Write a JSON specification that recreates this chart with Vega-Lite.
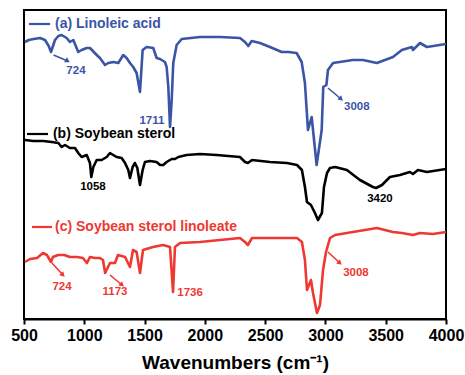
{
  "$schema": "https://vega.github.io/schema/vega-lite/v6.json",
  "width": 422,
  "height": 309,
  "autosize": "none",
  "padding": {"left": 24, "top": 10, "right": 19, "bottom": 56},
  "background": "white",
  "config": {
    "view": {"stroke": "black", "strokeWidth": 2},
    "font": "Liberation Sans"
  },
  "datasets": {
    "spectra": [
      {"wn": 508, "T": 277, "s": "a"}, {"wn": 540, "T": 279, "s": "a"}, {"wn": 580, "T": 280, "s": "a"}, {"wn": 633, "T": 281, "s": "a"},
      {"wn": 674, "T": 279, "s": "a"}, {"wn": 705, "T": 273, "s": "a"}, {"wn": 724, "T": 267, "s": "a"}, {"wn": 757, "T": 279, "s": "a"},
      {"wn": 785, "T": 283, "s": "a"}, {"wn": 812, "T": 284, "s": "a"}, {"wn": 854, "T": 281, "s": "a"}, {"wn": 881, "T": 277, "s": "a"},
      {"wn": 909, "T": 279, "s": "a"}, {"wn": 950, "T": 267, "s": "a"}, {"wn": 978, "T": 269, "s": "a"}, {"wn": 1020, "T": 271, "s": "a"},
      {"wn": 1047, "T": 271, "s": "a"}, {"wn": 1103, "T": 264, "s": "a"}, {"wn": 1130, "T": 261, "s": "a"}, {"wn": 1172, "T": 254, "s": "a"},
      {"wn": 1199, "T": 256, "s": "a"}, {"wn": 1240, "T": 257, "s": "a"}, {"wn": 1282, "T": 256, "s": "a"}, {"wn": 1323, "T": 264, "s": "a"},
      {"wn": 1351, "T": 261, "s": "a"}, {"wn": 1379, "T": 256, "s": "a"}, {"wn": 1406, "T": 252, "s": "a"}, {"wn": 1434, "T": 246, "s": "a"},
      {"wn": 1462, "T": 227, "s": "a"}, {"wn": 1484, "T": 269, "s": "a"}, {"wn": 1517, "T": 272, "s": "a"}, {"wn": 1572, "T": 271, "s": "a"},
      {"wn": 1600, "T": 261, "s": "a"}, {"wn": 1628, "T": 260, "s": "a"}, {"wn": 1669, "T": 257, "s": "a"}, {"wn": 1683, "T": 252, "s": "a"},
      {"wn": 1697, "T": 232, "s": "a"}, {"wn": 1711, "T": 192, "s": "a"}, {"wn": 1725, "T": 219, "s": "a"}, {"wn": 1738, "T": 256, "s": "a"},
      {"wn": 1766, "T": 274, "s": "a"}, {"wn": 1808, "T": 280, "s": "a"}, {"wn": 1960, "T": 282, "s": "a"}, {"wn": 2125, "T": 282, "s": "a"},
      {"wn": 2291, "T": 281, "s": "a"}, {"wn": 2333, "T": 277, "s": "a"}, {"wn": 2360, "T": 273, "s": "a"}, {"wn": 2388, "T": 278, "s": "a"},
      {"wn": 2457, "T": 276, "s": "a"}, {"wn": 2540, "T": 272, "s": "a"}, {"wn": 2637, "T": 267, "s": "a"}, {"wn": 2692, "T": 267, "s": "a"},
      {"wn": 2761, "T": 266, "s": "a"}, {"wn": 2803, "T": 257, "s": "a"}, {"wn": 2830, "T": 236, "s": "a"}, {"wn": 2855, "T": 189, "s": "a"},
      {"wn": 2886, "T": 202, "s": "a"}, {"wn": 2927, "T": 154, "s": "a"}, {"wn": 2969, "T": 189, "s": "a"}, {"wn": 2982, "T": 232, "s": "a"},
      {"wn": 3008, "T": 234, "s": "a"}, {"wn": 3021, "T": 249, "s": "a"}, {"wn": 3063, "T": 256, "s": "a"}, {"wn": 3228, "T": 259, "s": "a"},
      {"wn": 3311, "T": 259, "s": "a"}, {"wn": 3427, "T": 256, "s": "a"}, {"wn": 3560, "T": 262, "s": "a"}, {"wn": 3634, "T": 269, "s": "a"},
      {"wn": 3717, "T": 272, "s": "a"}, {"wn": 3726, "T": 269, "s": "a"}, {"wn": 3784, "T": 276, "s": "a"}, {"wn": 3842, "T": 272, "s": "a"},
      {"wn": 4000, "T": 275, "s": "a"},

      {"wn": 508, "T": 179, "s": "b"}, {"wn": 577, "T": 178, "s": "b"}, {"wn": 660, "T": 178, "s": "b"}, {"wn": 730, "T": 177, "s": "b"},
      {"wn": 785, "T": 176, "s": "b"}, {"wn": 812, "T": 172, "s": "b"}, {"wn": 840, "T": 174, "s": "b"}, {"wn": 881, "T": 171, "s": "b"},
      {"wn": 923, "T": 171, "s": "b"}, {"wn": 950, "T": 166, "s": "b"}, {"wn": 978, "T": 162, "s": "b"}, {"wn": 1020, "T": 164, "s": "b"},
      {"wn": 1047, "T": 156, "s": "b"}, {"wn": 1058, "T": 142, "s": "b"}, {"wn": 1075, "T": 152, "s": "b"}, {"wn": 1103, "T": 159, "s": "b"},
      {"wn": 1144, "T": 159, "s": "b"}, {"wn": 1186, "T": 162, "s": "b"}, {"wn": 1213, "T": 166, "s": "b"}, {"wn": 1240, "T": 164, "s": "b"},
      {"wn": 1268, "T": 162, "s": "b"}, {"wn": 1310, "T": 161, "s": "b"}, {"wn": 1338, "T": 156, "s": "b"}, {"wn": 1365, "T": 149, "s": "b"},
      {"wn": 1379, "T": 141, "s": "b"}, {"wn": 1401, "T": 152, "s": "b"}, {"wn": 1420, "T": 156, "s": "b"}, {"wn": 1440, "T": 151, "s": "b"},
      {"wn": 1462, "T": 134, "s": "b"}, {"wn": 1484, "T": 149, "s": "b"}, {"wn": 1503, "T": 157, "s": "b"}, {"wn": 1545, "T": 158, "s": "b"},
      {"wn": 1600, "T": 157, "s": "b"}, {"wn": 1628, "T": 154, "s": "b"}, {"wn": 1655, "T": 154, "s": "b"}, {"wn": 1683, "T": 157, "s": "b"},
      {"wn": 1725, "T": 160, "s": "b"}, {"wn": 1752, "T": 160, "s": "b"}, {"wn": 1780, "T": 162, "s": "b"}, {"wn": 1849, "T": 164, "s": "b"},
      {"wn": 1960, "T": 165, "s": "b"}, {"wn": 2098, "T": 164, "s": "b"}, {"wn": 2291, "T": 162, "s": "b"}, {"wn": 2333, "T": 157, "s": "b"},
      {"wn": 2357, "T": 156, "s": "b"}, {"wn": 2391, "T": 159, "s": "b"}, {"wn": 2540, "T": 157, "s": "b"}, {"wn": 2681, "T": 156, "s": "b"},
      {"wn": 2764, "T": 154, "s": "b"}, {"wn": 2805, "T": 149, "s": "b"}, {"wn": 2830, "T": 132, "s": "b"}, {"wn": 2847, "T": 117, "s": "b"},
      {"wn": 2880, "T": 114, "s": "b"}, {"wn": 2913, "T": 106, "s": "b"}, {"wn": 2938, "T": 99, "s": "b"}, {"wn": 2971, "T": 106, "s": "b"},
      {"wn": 2988, "T": 132, "s": "b"}, {"wn": 3013, "T": 146, "s": "b"}, {"wn": 3038, "T": 151, "s": "b"}, {"wn": 3080, "T": 152, "s": "b"},
      {"wn": 3178, "T": 149, "s": "b"}, {"wn": 3286, "T": 139, "s": "b"}, {"wn": 3394, "T": 132, "s": "b"}, {"wn": 3420, "T": 131, "s": "b"},
      {"wn": 3469, "T": 134, "s": "b"}, {"wn": 3535, "T": 142, "s": "b"}, {"wn": 3618, "T": 144, "s": "b"}, {"wn": 3701, "T": 147, "s": "b"},
      {"wn": 3726, "T": 145, "s": "b"}, {"wn": 3767, "T": 149, "s": "b"}, {"wn": 3842, "T": 147, "s": "b"}, {"wn": 4000, "T": 150, "s": "b"},

      {"wn": 508, "T": 57, "s": "c"}, {"wn": 550, "T": 60, "s": "c"}, {"wn": 608, "T": 61, "s": "c"}, {"wn": 658, "T": 66, "s": "c"},
      {"wn": 690, "T": 64, "s": "c"}, {"wn": 724, "T": 57, "s": "c"}, {"wn": 740, "T": 62, "s": "c"}, {"wn": 782, "T": 64, "s": "c"},
      {"wn": 834, "T": 64, "s": "c"}, {"wn": 881, "T": 62, "s": "c"}, {"wn": 940, "T": 62, "s": "c"}, {"wn": 989, "T": 61, "s": "c"},
      {"wn": 1022, "T": 56, "s": "c"}, {"wn": 1047, "T": 62, "s": "c"}, {"wn": 1089, "T": 61, "s": "c"}, {"wn": 1130, "T": 61, "s": "c"},
      {"wn": 1155, "T": 59, "s": "c"}, {"wn": 1173, "T": 46, "s": "c"}, {"wn": 1213, "T": 56, "s": "c"}, {"wn": 1255, "T": 56, "s": "c"},
      {"wn": 1279, "T": 64, "s": "c"}, {"wn": 1338, "T": 62, "s": "c"}, {"wn": 1379, "T": 52, "s": "c"}, {"wn": 1404, "T": 69, "s": "c"},
      {"wn": 1434, "T": 67, "s": "c"}, {"wn": 1462, "T": 46, "s": "c"}, {"wn": 1487, "T": 69, "s": "c"}, {"wn": 1570, "T": 72, "s": "c"},
      {"wn": 1653, "T": 74, "s": "c"}, {"wn": 1711, "T": 72, "s": "c"}, {"wn": 1736, "T": 27, "s": "c"}, {"wn": 1752, "T": 72, "s": "c"},
      {"wn": 1794, "T": 76, "s": "c"}, {"wn": 1960, "T": 77, "s": "c"}, {"wn": 2291, "T": 81, "s": "c"}, {"wn": 2333, "T": 77, "s": "c"},
      {"wn": 2357, "T": 74, "s": "c"}, {"wn": 2391, "T": 81, "s": "c"}, {"wn": 2540, "T": 81, "s": "c"}, {"wn": 2764, "T": 81, "s": "c"},
      {"wn": 2805, "T": 77, "s": "c"}, {"wn": 2830, "T": 59, "s": "c"}, {"wn": 2847, "T": 29, "s": "c"}, {"wn": 2880, "T": 39, "s": "c"},
      {"wn": 2897, "T": 26, "s": "c"}, {"wn": 2930, "T": 6, "s": "c"}, {"wn": 2955, "T": 14, "s": "c"}, {"wn": 2980, "T": 49, "s": "c"},
      {"wn": 3005, "T": 67, "s": "c"}, {"wn": 3038, "T": 81, "s": "c"}, {"wn": 3080, "T": 84, "s": "c"}, {"wn": 3228, "T": 87, "s": "c"},
      {"wn": 3427, "T": 91, "s": "c"}, {"wn": 3560, "T": 87, "s": "c"}, {"wn": 3634, "T": 86, "s": "c"}, {"wn": 3726, "T": 84, "s": "c"},
      {"wn": 3784, "T": 86, "s": "c"}, {"wn": 3891, "T": 85, "s": "c"}, {"wn": 4000, "T": 87, "s": "c"}
    ],
    "peaks": [
      {"wn": 931, "T": 248, "label": "724", "s": "a"},
      {"wn": 1561, "T": 198, "label": "1711", "s": "a"},
      {"wn": 3260, "T": 212, "label": "3008", "s": "a"},
      {"wn": 1072, "T": 132, "label": "1058", "s": "b"},
      {"wn": 3452, "T": 120, "label": "3420", "s": "b"},
      {"wn": 815, "T": 32, "label": "724", "s": "c"},
      {"wn": 1255, "T": 27, "label": "1173", "s": "c"},
      {"wn": 1877, "T": 26, "label": "1736", "s": "c"},
      {"wn": 3253, "T": 46, "label": "3008", "s": "c"}
    ],
    "arrows": [
      {"wn": 745, "T": 264, "wn2": 862, "T2": 258, "angle": 121, "s": "a"},
      {"wn": 3021, "T": 231, "wn2": 3130, "T2": 220, "angle": 132, "s": "a"},
      {"wn": 732, "T": 56, "wn2": 823, "T2": 44, "angle": 135, "s": "c"},
      {"wn": 1213, "T": 44, "wn2": 1313, "T2": 34, "angle": 130, "s": "c"},
      {"wn": 3021, "T": 67, "wn2": 3120, "T2": 56, "angle": 132, "s": "c"}
    ],
    "keys": [
      {"wn": 541, "wn2": 716, "T": 295, "tx": 757, "name": "(a) Linoleic acid", "s": "a"},
      {"wn": 525, "wn2": 699, "T": 185, "tx": 740, "name": "(b) Soybean sterol", "s": "b"},
      {"wn": 566, "wn2": 732, "T": 92, "tx": 757, "name": "(c) Soybean sterol linoleate", "s": "c"}
    ]
  },
  "encoding": {
    "x": {
      "field": "wn", "type": "quantitative",
      "scale": {"domain": [500, 4000], "nice": false, "zero": false},
      "axis": {
        "title": "Wavenumbers (cm⁻¹)",
        "values": [500, 1000, 1500, 2000, 2500, 3000, 3500, 4000],
        "format": "d",
        "grid": false,
        "domainColor": "black", "domainWidth": 2,
        "tickColor": "black", "tickWidth": 2, "tickSize": 5,
        "labelFont": "Liberation Sans", "labelFontWeight": "bold", "labelFontSize": 16,
        "labelColor": "black", "labelPadding": 3, "labelFlush": false,
        "titleFont": "Liberation Sans", "titleFontWeight": "bold", "titleFontSize": 19,
        "titleColor": "black", "titlePadding": 10
      }
    },
    "y": {
      "field": "T", "type": "quantitative",
      "scale": {"domain": [0, 309], "nice": false, "zero": false},
      "axis": null
    },
    "color": {
      "field": "s", "type": "nominal",
      "scale": {"domain": ["a", "b", "c"], "range": ["#3b55a6", "#000000", "#ee3832"]},
      "legend": null
    }
  },
  "layer": [
    {
      "data": {"name": "spectra"},
      "mark": {"type": "line", "strokeWidth": 2.6, "strokeJoin": "round", "clip": true}
    },
    {
      "data": {"name": "peaks"},
      "mark": {"type": "text", "fontWeight": "bold", "fontSize": 11.5, "font": "Liberation Sans", "baseline": "middle", "align": "center"},
      "encoding": {"text": {"field": "label"}}
    },
    {
      "data": {"name": "arrows"},
      "mark": {"type": "rule", "strokeWidth": 1.6},
      "encoding": {
        "x2": {"field": "wn2"},
        "y2": {"field": "T2"}
      }
    },
    {
      "data": {"name": "arrows"},
      "mark": {"type": "point", "shape": "triangle-up", "filled": true, "size": 32, "opacity": 1},
      "encoding": {
        "x": {"field": "wn2", "type": "quantitative"},
        "y": {"field": "T2", "type": "quantitative"},
        "angle": {"field": "angle", "type": "quantitative", "scale": null}
      }
    },
    {
      "data": {"name": "keys"},
      "mark": {"type": "rule", "strokeWidth": 2.2},
      "encoding": {"x2": {"field": "wn2"}}
    },
    {
      "data": {"name": "keys"},
      "mark": {"type": "text", "fontWeight": "bold", "fontSize": 14, "font": "Liberation Sans", "align": "left", "baseline": "middle"},
      "encoding": {
        "x": {"field": "tx", "type": "quantitative"},
        "text": {"field": "name"}
      }
    }
  ]
}
